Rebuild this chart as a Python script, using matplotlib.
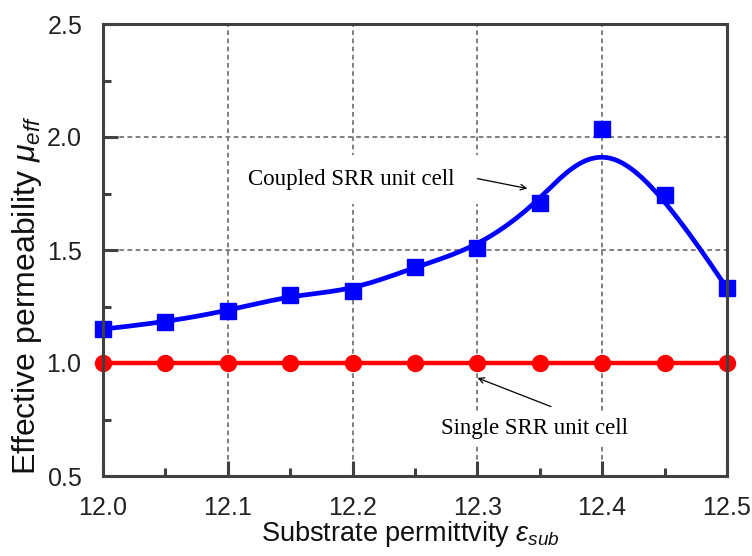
import numpy as np
import matplotlib
matplotlib.use("Agg")
import matplotlib.pyplot as plt
from matplotlib.patches import Rectangle
from matplotlib.ticker import MultipleLocator

# Data
eps_sub = [12.0, 12.05, 12.1, 12.15, 12.2, 12.25, 12.3, 12.35, 12.4, 12.45, 12.5]
mu_coupled = [1.15, 1.18, 1.23, 1.30, 1.32, 1.425, 1.51, 1.71, 2.035, 1.745, 1.33]
mu_single = [1.0, 1.0, 1.0, 1.0, 1.0, 1.0, 1.0, 1.0, 1.0, 1.0, 1.0]
x_ticks = [12.0, 12.1, 12.2, 12.3, 12.4, 12.5]
y_ticks = [0.5, 1.0, 1.5, 2.0, 2.5]


def bspline(xs, ys, num=400):
    # clamped uniform cubic B-spline using the data points as control points
    P = np.column_stack([xs, ys]).astype(float)
    n = len(P)
    k = 3
    knots = np.concatenate([np.zeros(k), np.arange(n - k + 1), np.full(k, n - k)])
    t = np.linspace(0, n - k, num)
    t[-1] -= 1e-9
    N = np.zeros((num, len(knots) - 1))
    for i in range(len(knots) - 1):
        N[:, i] = (knots[i] <= t) & (t < knots[i + 1])
    for d in range(1, k + 1):
        Nn = np.zeros((num, len(knots) - 1 - d))
        for i in range(len(knots) - 1 - d):
            a = knots[i + d] - knots[i]
            b = knots[i + d + 1] - knots[i + 1]
            term = np.zeros(num)
            if a > 0:
                term += (t - knots[i]) / a * N[:, i]
            if b > 0:
                term += (knots[i + d + 1] - t) / b * N[:, i + 1]
            Nn[:, i] = term
        N = Nn
    curve = N @ P
    return curve[:, 0], curve[:, 1]


plt.rcParams['font.family'] = ['Liberation Sans', 'DejaVu Sans']
plt.rcParams['mathtext.fontset'] = 'custom'
plt.rcParams['mathtext.rm'] = 'Liberation Sans'
plt.rcParams['mathtext.it'] = 'Liberation Sans:italic'

fig = plt.figure(figsize=(7.52, 5.56), dpi=100)
ax = fig.add_axes([103 / 752, 80 / 556, 624 / 752, 452 / 556])

spine_col = '#404040'

# smooth curves
cx, cy = bspline(eps_sub, mu_coupled)
ax.plot(cx, cy, color='#0000ff', lw=3.4, zorder=3, clip_on=False)
sx, sy = bspline(eps_sub, mu_single)
ax.plot(sx, sy, color='#ff0000', lw=3.2, zorder=3, clip_on=False)

ax.plot(eps_sub, mu_coupled, ls='none', marker='s', ms=11.5, color='#0000ff',
        zorder=4, clip_on=False)
ax.plot(eps_sub, mu_single, ls='none', marker='o', ms=11.5, color='#ff0000',
        zorder=4, clip_on=False)

ax.set_xlim(12.0, 12.5)
ax.set_ylim(0.5, 2.5)
ax.set_xticks(x_ticks)
ax.set_yticks(y_ticks)
# mathregular keeps the label boxes tight to the digits
ax.set_xticklabels([r'$\mathregular{%.1f}$' % v for v in x_ticks])
ax.set_yticklabels([r'$\mathregular{%.1f}$' % v for v in y_ticks])
ax.xaxis.set_minor_locator(MultipleLocator(0.05))
ax.yaxis.set_minor_locator(MultipleLocator(0.25))

ax.tick_params(which='major', direction='in', length=11, width=2.2,
               color=spine_col, labelsize=18, labelcolor='#222222',
               top=False, right=False)
ax.tick_params(which='minor', direction='in', length=6, width=2.2,
               color=spine_col, top=False, right=False)
ax.tick_params(axis='x', which='major', pad=14.5)
ax.tick_params(axis='y', which='major', pad=15)

for sp in ax.spines.values():
    sp.set_linewidth(2.2)
    sp.set_color(spine_col)
    sp.set_zorder(5)

ax.grid(True, which='major', color='#808080', lw=1.4, ls=(0, (2.4, 1.8)))
ax.set_axisbelow(True)

ax.set_xlabel(r'Substrate permittvity $\varepsilon_{sub}$', fontsize=19.5,
              color='#111111')
ax.xaxis.set_label_coords(0.492, -0.095)
ax.set_ylabel(r'Effective permeability $\mu_{eff}$', fontsize=23,
              color='#111111')
ax.yaxis.set_label_coords(-0.094, 0.40)

# annotations (white boxes hide the grid behind the text)
ax.add_patch(Rectangle((12.11, 1.702), 0.192, 0.219, facecolor='white',
                       edgecolor='none', zorder=1.5))
ax.text(12.116, 1.789, 'Coupled SRR unit cell', family='Liberation Serif',
        fontsize=16.5, va='baseline', ha='left', zorder=2)
ax.annotate('', xy=(12.34, 1.772), xytext=(12.30, 1.816),
            arrowprops=dict(arrowstyle='->', color='black', lw=0.9,
                            shrinkA=0, shrinkB=0), zorder=2)

ax.text(12.271, 0.684, 'Single SRR unit cell', family='Liberation Serif',
        fontsize=16.5, va='baseline', ha='left', zorder=2,
        bbox=dict(facecolor='white', edgecolor='none', pad=4))
ax.annotate('', xy=(12.30, 0.934), xytext=(12.359, 0.807),
            arrowprops=dict(arrowstyle='->', color='black', lw=0.9,
                            shrinkA=0, shrinkB=0), zorder=2)

fig.savefig('out.png', dpi=100)
